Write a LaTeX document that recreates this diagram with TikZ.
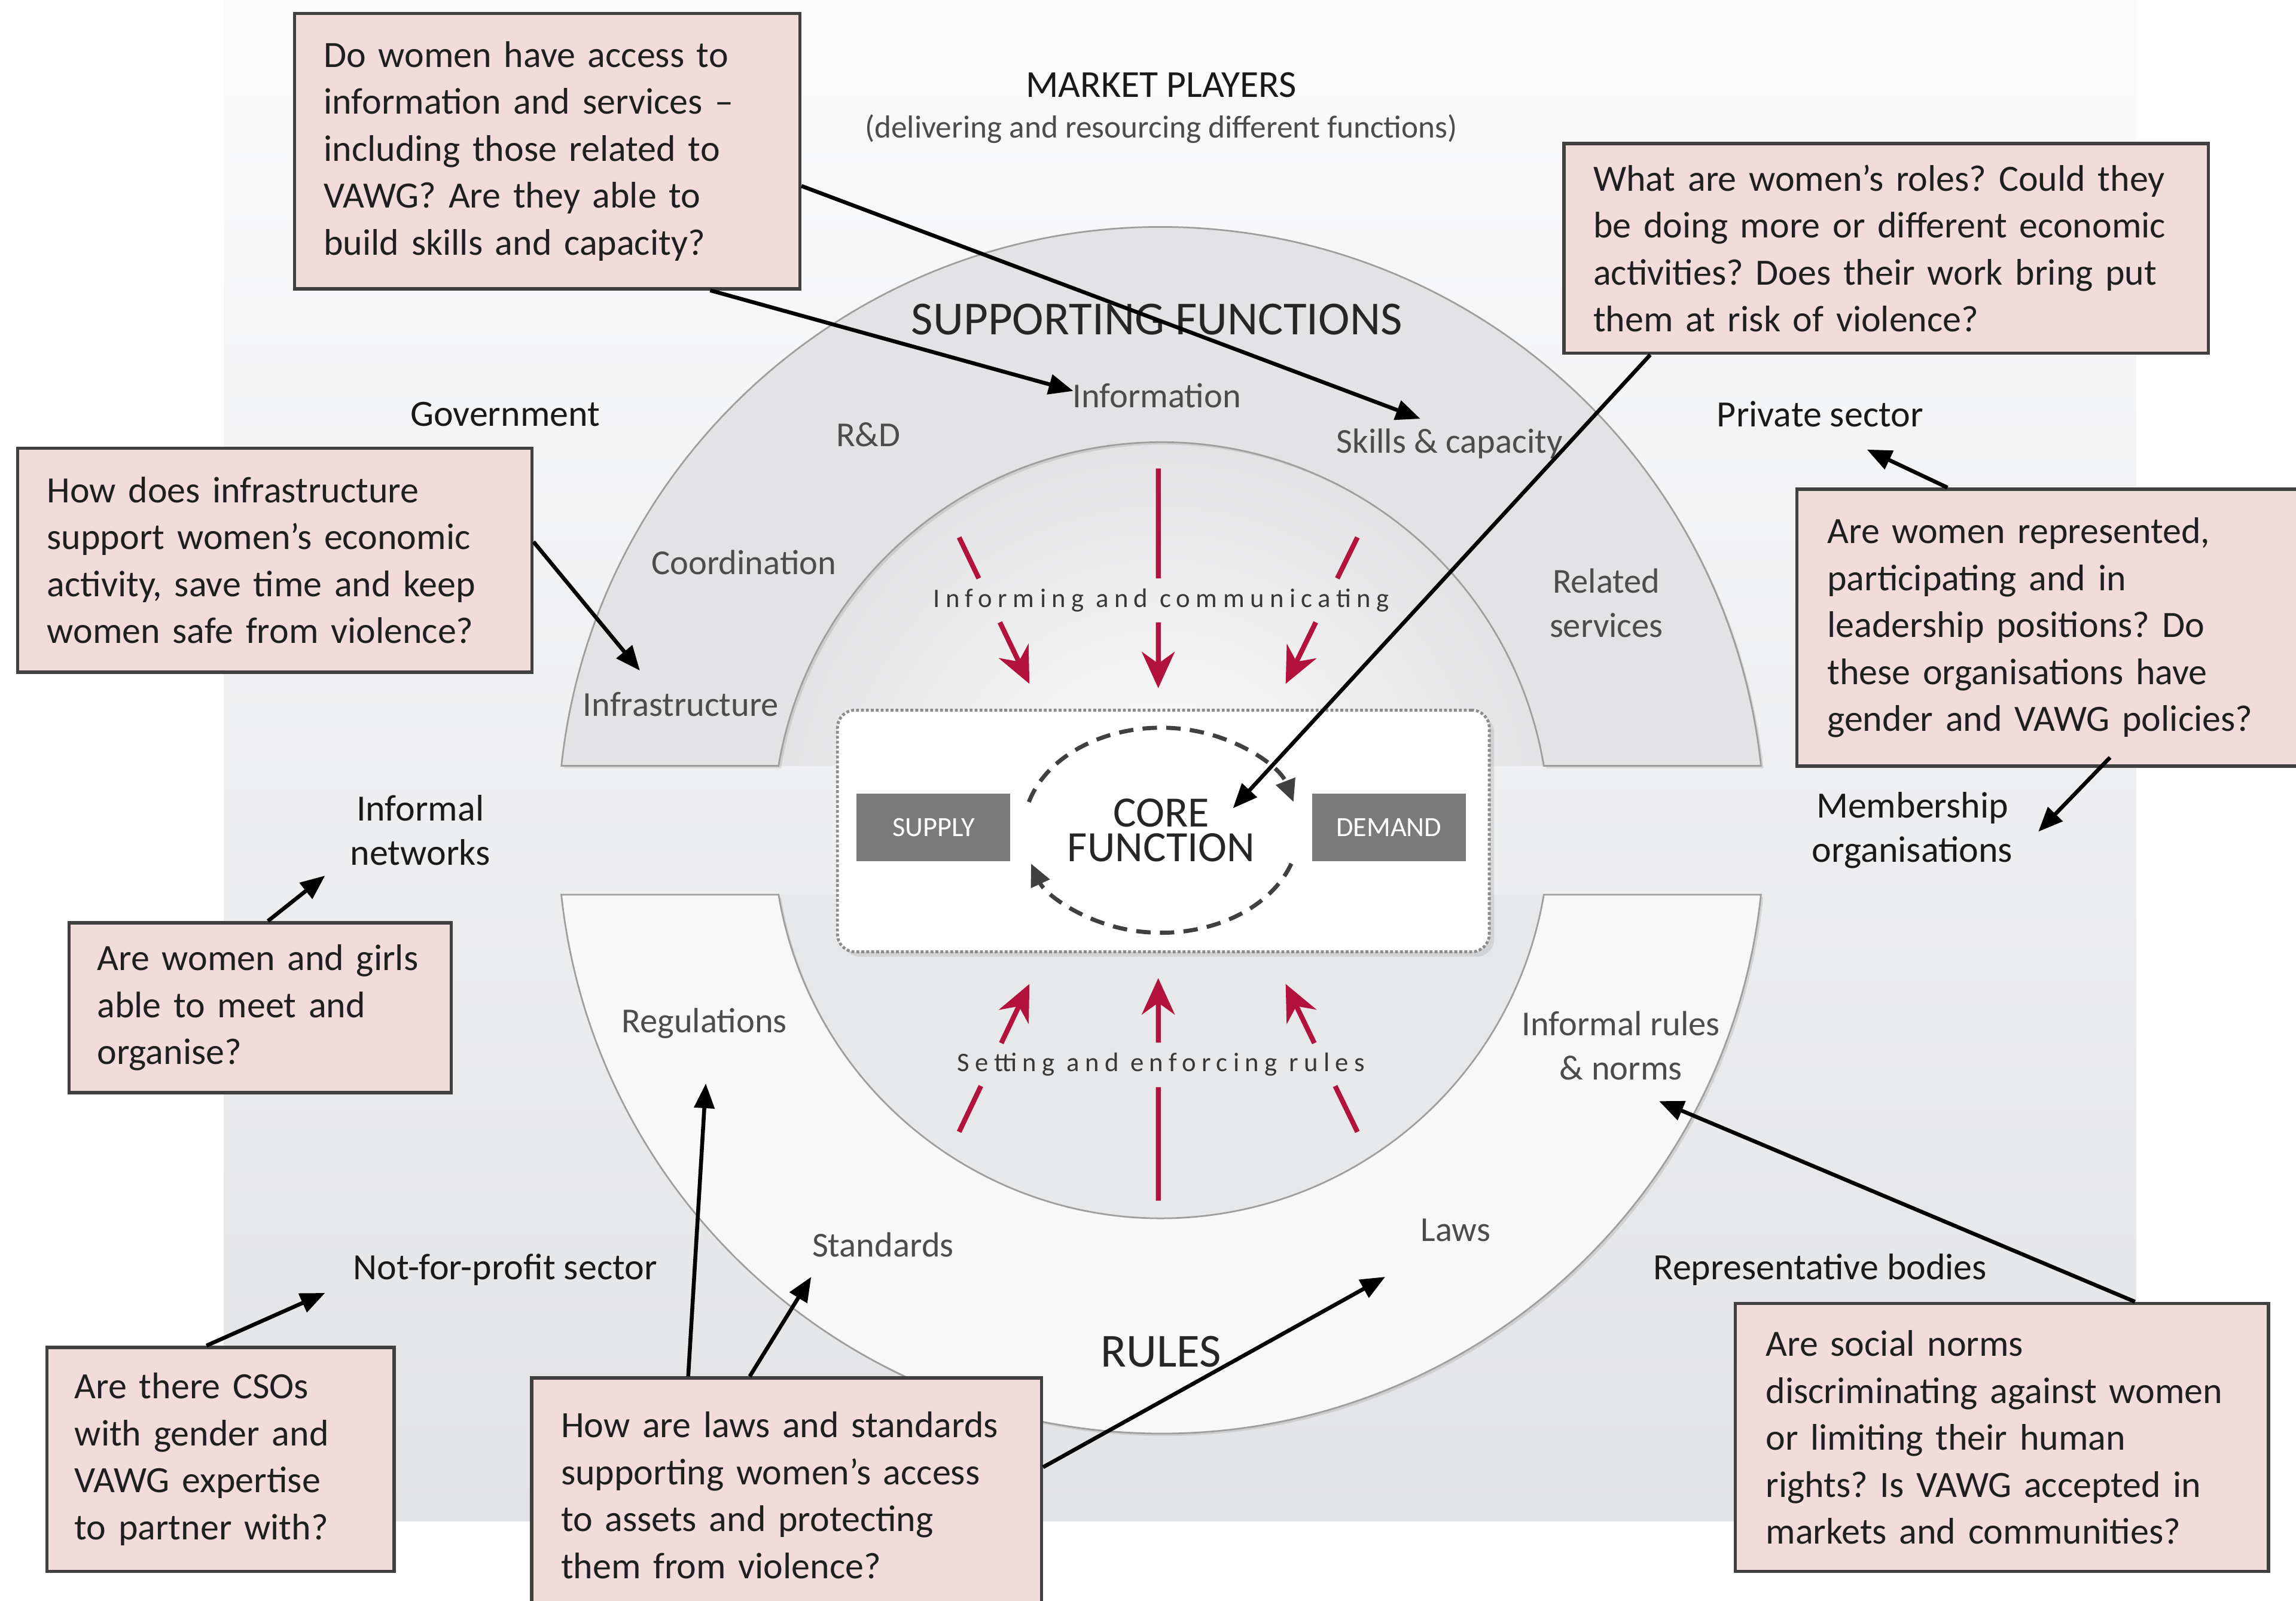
\documentclass[tikz,border=0pt]{standalone}
\usepackage{fontspec}
\setmainfont{Carlito}
\usetikzlibrary{arrows.meta,positioning,calc,shadows}
\frenchspacing
\hyphenpenalty=10000

\definecolor{qpink}{HTML}{F2DCDB}
\definecolor{bgtop}{HTML}{FBFBFC}
\definecolor{bgbot}{HTML}{E2E3E5}
\definecolor{upring}{HTML}{E3E3E5}
\definecolor{lowring}{HTML}{F8F8F9}
\definecolor{lowinner}{HTML}{E7E8EA}
\definecolor{crimson}{HTML}{B3123C}
\definecolor{sdbox}{HTML}{7A7A7A}

\tikzset{
  >=Stealth,
  every node/.append style={font=\fontsize{17}{20}\selectfont},
}
\tikzset{
  qbox/.style={draw=black!75, fill=qpink, line width=1.6pt, anchor=north west,
    align=left, inner ysep=0pt, font=\fontsize{18}{22.8}\selectfont, text=black!88},
  ask/.style={-{Triangle[length=0.42cm,width=0.34cm]}, line width=1.9pt, black},
  ring/.style={draw=black!38, line width=0.8pt,
    drop shadow={opacity=0.22, shadow xshift=1.2pt, shadow yshift=-1.2pt}}
}

\begin{document}
\begin{tikzpicture}[x=0.025cm, y=-0.025cm,
  player/.style ={font=\fontsize{18}{21.3}\selectfont, text=black!90, align=center, inner sep=1pt},
  fn/.style     ={font=\fontsize{17}{21.5}\selectfont, text=black!70, align=center, inner sep=1pt},
  heading/.style={font=\fontsize{23}{25}\selectfont, text=black!85, inner sep=1pt},
  spaced/.style ={font=\fontsize{13}{15}\selectfont\addfontfeatures{LetterSpace=21}, text=black!78, inner sep=1pt},
  sd/.style     ={fill=sdbox, text=white, font=\fontsize{13.5}{15}\selectfont,
                  minimum width=2.625cm, minimum height=1.15cm, inner sep=0pt},
  push/.style   ={line width=2.4pt, draw=crimson},
  pushtip/.style={push, -{Stealth[length=0.62cm,width=0.56cm,inset=0.2cm]}},
  loopline/.style={draw=black!75, line width=2pt, dash pattern=on 7pt off 4.5pt,
                  -{Triangle[length=0.38cm,width=0.34cm]}}
]

% canvas and grey panel
\fill[white] (0,0) rectangle (1568,1093);
\useasboundingbox (0,0) rectangle (1568,1093);
\shade[top color=bgtop, bottom color=bgbot] (153,0) rectangle (1459,1039);

% inner discs
\begin{scope}
  \clip (531.7,523) arc[start angle=189.555, end angle=350.445, radius=265] -- cycle;
  \shade[inner color=white, outer color=upring] (793,567) circle[radius=265];
\end{scope}
\fill[lowinner] (1054.3,611) arc[start angle=9.555, end angle=170.445, radius=265] -- cycle;

% the two half rings
\path[ring, fill=upring] (383.4,523) arc[start angle=186.13, end angle=353.87, radius=412]
  -- (1054.3,523) arc[start angle=350.445, end angle=189.555, radius=265] -- cycle;
\path[ring, fill=lowring] (1202.6,611) arc[start angle=6.13, end angle=173.87, radius=412]
  -- (531.7,611) arc[start angle=170.445, end angle=9.555, radius=265] -- cycle;

% core function
\node[draw=black!45, densely dotted, line width=1.4pt, fill=white, rounded corners=0.3cm,
      minimum width=11.125cm, minimum height=4.125cm,
      drop shadow={opacity=0.2}] (corebox) at (794.5,567.5) {};
\node[sd] (supply) at (637.5,565) {SUPPLY};
\node[sd] (demand) at (948.5,565) {DEMAND};
\node[font=\fontsize{21}{17}\selectfont, text=black!85, align=center, inner sep=1pt]
  (core) at (793,567) {CORE\\FUNCTION};
\draw[loopline] ($(core)+(196:94 and 70)$) arc[start angle=196, end angle=344, x radius=94, y radius=70];
\draw[loopline] ($(core)+(19:94 and 70)$) arc[start angle=19, end angle=161, x radius=94, y radius=70];

% red arrows, broken where the labels sit
\foreach \n/\sx/\sy/\tx/\ty/\a/\b in {
  1/655/367/703/467/0.28/0.58, 2/791/320/791/470/0.50/0.70, 3/927/367/878/467/0.28/0.58,
  4/655/773/703/672/0.31/0.60, 5/791/820/791/668/0.51/0.71, 6/927/773/878/672/0.31/0.60}{
  \coordinate (rs\n) at (\sx,\sy);
  \coordinate (rt\n) at (\tx,\ty);
  \draw[push] (rs\n) -- ($(rs\n)!\a!(rt\n)$);
  \draw[pushtip] ($(rs\n)!\b!(rt\n)$) -- (rt\n);
}
\node[spaced] (informing) at (793,410) {Informing and communicating};
\node[spaced] (setting) at (793,727) {Setting and enforcing rules};

% ring labels
\node[heading] (sf) at (790,218) {SUPPORTING FUNCTIONS};
\node[fn] (info) at (790,270) {Information};
\node[fn] (rnd) at (593,297) {R\&D};
\node[fn] (skills) at (990,303) {Skills \& capacity};
\node[fn] (coord) at (508,384) {Coordination};
\node[fn] (related) at (1097,412) {Related\\services};
\node[fn] (infra) at (465,481) {Infrastructure};
\node[fn] (regs) at (481,699) {Regulations};
\node[fn] (infrules) at (1107,714) {Informal rules\\\& norms};
\node[fn] (stand) at (603,850) {Standards};
\node[fn] (laws) at (994,840) {Laws};
\node[heading] (rules) at (793,923) {RULES};

% market players
\node[player, font=\fontsize{18.5}{21}\selectfont] (mp) at (793,58) {MARKET PLAYERS};
\node[fn, font=\fontsize{15.5}{18}\selectfont] (mpsub) at (793,88) {(delivering and resourcing different functions)};
\node[player] (gov) at (345,283) {Government};
\node[player] (private) at (1243,283) {Private sector};
\node[player] (infnet) at (287,567) {Informal\\networks};
\node[player] (member) at (1306,567) {Membership\\organisations};
\node[player] (nfp) at (345,867) {Not-for-profit sector};
\node[player] (repr) at (1243,867) {Representative bodies};

% question boxes
\node[qbox, inner xsep=0.5cm, text width=7.625cm, minimum height=4.7cm] (q1) at (200,8)
  {Do women have access to\\information and services –\\including those related to\\VAWG? Are they able to\\build skills and capacity?};
\node[qbox, inner xsep=0.5cm, text width=10cm, minimum height=3.575cm] (q2) at (1067,97)
  {What are women’s roles? Could they\\be doing more or different economic\\activities? Does their work bring put\\them at risk of violence?};
\node[qbox, inner xsep=0.5cm, text width=7.775cm, minimum height=3.825cm] (q3) at (11,305)
  {How does infrastructure\\support women’s economic\\activity, save time and keep\\women safe from violence?};
\node[qbox, inner xsep=0.52cm, text width=8.01cm, minimum height=4.725cm] (q4) at (1226,333)
  {Are women represented,\\participating and in\\leadership positions? Do\\these organisations have\\gender and VAWG policies?};
\node[qbox, inner xsep=0.48cm, text width=5.565cm, minimum height=2.9cm] (q5) at (46,629)
  {Are women and girls\\able to meet and\\organise?};
\node[qbox, inner xsep=0.47cm, text width=4.985cm, minimum height=3.825cm] (q6) at (31,919)
  {Are there CSOs\\with gender and\\VAWG expertise\\to partner with?};
\node[qbox, inner xsep=0.5cm, text width=7.7cm, minimum height=4.0cm] (q7) at (362,940)
  {How are laws and standards\\supporting women’s access\\to assets and protecting\\them from violence?};
\node[qbox, inner xsep=0.52cm, text width=8.06cm, minimum height=4.575cm] (q8) at (1184,889)
  {Are social norms\\discriminating against women\\or limiting their human\\rights? Is VAWG accepted in\\markets and communities?};

% question arrows
\draw[ask] ($(q1.south west)+(285,0)$) -- ($(info)+(-57,-3)$);
\draw[ask] ($(q1.north east)+(0,119)$) -- ($(skills)+(-20,-17)$);
\draw[ask] ($(q2.south west)+(60,0)$) -- ($(core)+(49,-15)$);
\draw[ask] ($(q3.north east)+(0,65)$) -- ($(infra)+(-28,-23)$);
\draw[ask] ($(q4.north west)+(104,0)$) -- ($(private)+(32,24)$);
\draw[ask] ($(q4.south west)+(215,-7)$) -- ($(member)+(86,1)$);
\draw[ask] ($(q5.north west)+(137,0)$) -- ($(infnet)+(-65,31)$);
\draw[ask] ($(q6.north west)+(110,0)$) -- ($(nfp)+(-123,16)$);
\draw[ask] ($(q7.north west)+(108,0)$) -- ($(regs)+(1,41)$);
\draw[ask] ($(q7.north west)+(150,0)$) -- ($(stand)+(-49,22)$);
\draw[ask] ($(q7.north east)+(0,62)$) -- ($(laws)+(-48,32)$);
\draw[ask] ($(q8.north west)+(274,0)$) -- ($(infrules)+(26,38)$);

\end{tikzpicture}
\end{document}
